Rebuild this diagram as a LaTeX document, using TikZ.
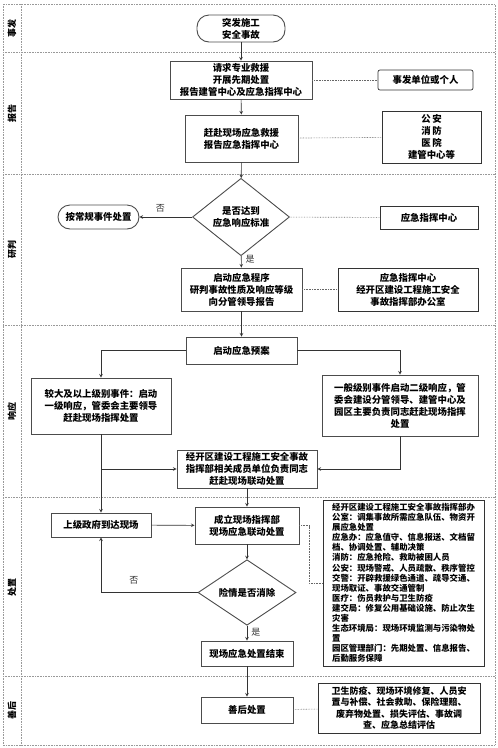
\documentclass[tikz,border=0pt]{standalone}
\usepackage{fontspec}
\setmainfont{Noto Sans CJK SC}
\usetikzlibrary{calc,positioning,arrows,shapes.geometric}

\tikzset{
	box/.style={draw=black!70, line width=0.9pt, align=center, inner sep=1pt,
		font=\bfseries\fontsize{9.4}{12}\selectfont},
	term/.style={box, rounded corners=12pt},
	decision/.style={box, diamond, inner sep=0pt},
	note/.style={box, line width=0.7pt, draw=black!80},
	link/.style={densely dotted, black!60, line width=0.6pt},
	arr/.style={-stealth, black!80, line width=0.6pt},
	lane/.style={densely dotted, black!40, line width=0.6pt},
	lbl/.style={font=\fontsize{9}{10}\selectfont, inner sep=0pt},
}

\begin{document}
\begin{tikzpicture}[x=1pt,y=-1pt]
		\useasboundingbox (0,0) rectangle (498,748);
		\draw[lane] (3,4) rectangle (495,745);
		\draw[lane] (21,4) -- (21,745);
		\foreach \y in {52,174,325,497,676} {
			\draw[lane] (3,\y) -- (495,\y);
		};
		\node[lbl, rotate=90, font=\bfseries\fontsize{9}{10}\selectfont] at (12,28) {事发};
		\node[lbl, rotate=90, font=\bfseries\fontsize{9}{10}\selectfont] at (12,113) {报告};
		\node[lbl, rotate=90, font=\bfseries\fontsize{9}{10}\selectfont] at (12,249) {研判};
		\node[lbl, rotate=90, font=\bfseries\fontsize{9}{10}\selectfont] at (12,411) {响应};
		\node[lbl, rotate=90, font=\bfseries\fontsize{9}{10}\selectfont] at (12,587) {处置};
		\node[lbl, rotate=90, font=\bfseries\fontsize{9}{10}\selectfont] at (12,710) {善后};

		\node[term, minimum width=88, minimum height=27] (start) at (241,28.5) {突发施工\\安全事故};
		\node[box, minimum width=142, minimum height=38] (rescue) at (241,80) {请求专业救援\\开展先期处置\\报告建管中心及应急指挥中心};
		\node[note, rounded corners=2pt, minimum width=95, minimum height=20] (unit) at (425.5,80) {事发单位或个人};
		\node[box, minimum width=113, minimum height=47] (onsite) at (241.5,138.5) {赶赴现场应急救援\\报告应急指挥中心};
		\node[note, minimum width=99, minimum height=52] (police) at (431.5,137) {公\,安\\消\,防\\医\,院\\建管中心等};

		\node[decision, minimum width=97, minimum height=66] (reach) at (241,217) {是否达到\\应急响应标准};
		\node[term, minimum width=81, minimum height=24] (normal) at (98.5,217) {按常规事件处置};
		\node[note, minimum width=98, minimum height=23] (center) at (429,217.5) {应急指挥中心};
		\node[box, minimum width=121, minimum height=43] (judge) at (241.5,289.5) {启动应急程序\\研判事故性质及响应等级\\向分管领导报告};
		\node[note, minimum width=140, minimum height=43] (office) at (408,289.5) {应急指挥中心\\经开区建设工程施工安全\\事故指挥部办公室};

		\node[box, minimum width=111, minimum height=27] (plan) at (241.5,350.5) {启动应急预案};
		\node[box, minimum width=140, minimum height=56] (major) at (101,406) {较大及以上级别事件：启动\\一级响应，管委会主要领导\\赶赴现场指挥处置};
		\node[box, minimum width=156, minimum height=61] (minor) at (400,405.5) {一般级别事件启动二级响应，管\\委会建设分管领导、建管中心及\\园区主要负责同志赶赴现场指挥\\处置};
		\node[box, minimum width=140, minimum height=38] (members) at (247,469) {经开区建设工程施工安全事故\\指挥部相关成员单位负责同志\\赶赴现场联动处置};

		\node[box, minimum width=100, minimum height=24] (gov) at (101,525) {上级政府到达现场};
		\node[box, minimum width=104, minimum height=37] (hq) at (247,525.5) {成立现场指挥部\\现场应急联动处置};
		\node[decision, minimum width=98, minimum height=35] (clear) at (247,592.5) {险情是否消除};
		\node[box, minimum width=92, minimum height=25] (finish) at (247,653.5) {现场应急处置结束};
		\node[note, align=left, minimum width=161, minimum height=166, inner sep=2pt,
			font=\bfseries\fontsize{8.4}{10.1}\selectfont] (duty) at (403.5,583) {经开区建设工程施工安全事故指挥部办\\公室：调集事故所需应急队伍、物资开\\展应急处置\\应急办：应急值守、信息报送、文档留\\档、协调处置、辅助决策\\消防：应急抢险、救助被困人员\\公安：现场警戒、人员疏散、秩序管控\\交警：开辟救援绿色通道、疏导交通、\\现场取证、事故交通管制\\医疗：伤员救护与卫生防疫\\建交局：修复公用基础设施、防止次生\\灾害\\生态环境局：现场环境监测与污染物处\\置\\园区管理部门：先期处置、信息报告、\\后勤服务保障};

		\node[box, minimum width=92, minimum height=26] (after) at (247,710) {善后处置};
		\node[note, minimum width=162, minimum height=50, font=\bfseries\fontsize{9}{11.5}\selectfont] (recover) at (399,708) {卫生防疫、现场环境修复、人员安\\置与补偿、社会救助、保险理赔、\\废弃物处置、损失评估、事故调\\查、应急总结评估};

		\draw[arr] (start) -- (rescue);
		\draw[arr] (rescue) -- (onsite);
		\draw[arr] (onsite) -- (reach);
		\draw[arr] (reach) -- node[lbl, pos=0.3, right=4pt] {是} (judge);
		\draw[arr] (reach) -- node[lbl, pos=0.6, above=4pt] {否} (normal);
		\draw[arr] (judge) -- (plan);
		\draw[arr] (plan.west) -| (major.north);
		\draw[arr] (plan.east) -| (minor.north);
		\draw[arr] (major.south) -- (gov.north);
		\draw[arr] (major.south |- members.west) -- (members.west);
		\draw[arr] (minor.south) |- (members.east);
		\draw[arr] (members) -- (hq);
		\draw[arr] (gov) -- (hq);
		\draw[arr] (hq) -- (clear);
		\draw[arr] (clear) -- node[lbl, pos=0.45, right=4pt] {是} (finish);
		\draw[arr] (clear.west) -| node[lbl, pos=0.33, above=8pt] {否} (gov.south);
		\draw[arr] (finish) -- (after);

		\draw[link] (rescue) -- (unit);
		\draw[link] (onsite) -- (police);
		\draw[link] (reach) -- (center);
		\draw[link] (judge) -- (office);
		\draw[link] (hq.east) -- ++(10,0) |- (duty.west);
		\draw[link] (after) -- (recover);
	\end{tikzpicture}
\end{document}
